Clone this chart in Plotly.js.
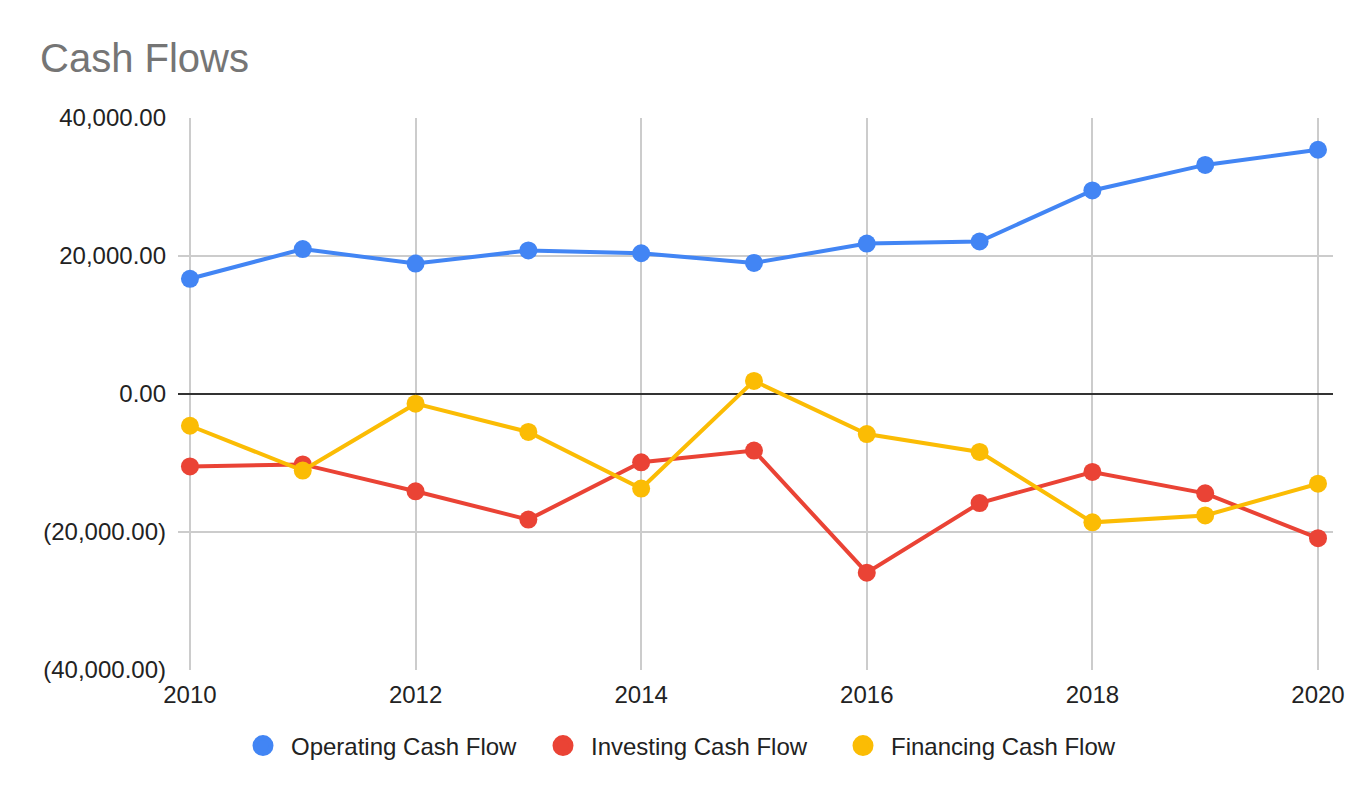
<!DOCTYPE html>
<html>
<head>
<meta charset="utf-8">
<script src="https://cdn.plot.ly/plotly-3.0.1.min.js"></script>
<style>
  html, body { margin: 0; padding: 0; background: #fff; }
  #chart { width: 1372px; height: 798px; }
</style>
</head>
<body>
<div id="chart"></div>
<script>
// years on the x axis
var years = [2010, 2011, 2012, 2013, 2014, 2015, 2016, 2017, 2018, 2019, 2020];

// series values
var operating = [16700, 21000, 18900, 20800, 20400, 19000, 21800, 22100, 29500, 33200, 35400];
var investing = [-10500, -10200, -14100, -18200, -9900, -8200, -25900, -15800, -11300, -14400, -20900];
var financing = [-4600, -11100, -1400, -5500, -13700, 1900, -5800, -8400, -18600, -17600, -13000];

var series_names = ['Operating Cash Flow', 'Investing Cash Flow', 'Financing Cash Flow'];
var series_colors = ['#4285F4', '#EA4335', '#FBBC04'];

// y tick labels, accounting style
var y_ticks = [-40000, -20000, 0, 20000, 40000];
var y_labels = ['(40,000.00)', '(20,000.00)', '0.00', '20,000.00', '40,000.00'];

function make_line(yValues, idx) {
	return {
		x: years,
		y: yValues,
		type: 'scatter',
		mode: 'lines+markers',
		name: series_names[idx],
		showlegend: false,
		hoverinfo: 'none',
		line: { color: series_colors[idx], width: 4 },
		marker: { color: series_colors[idx], size: 18 }
	};
}

// legend only entries (dot, no line segment); outline makes the dot bigger
function make_key(idx) {
	return {
		x: [null],
		y: [null],
		type: 'scatter',
		mode: 'markers',
		name: series_names[idx],
		hoverinfo: 'none',
		marker: { color: series_colors[idx], size: 24, line: { color: series_colors[idx], width: 6 } }
	};
}

var data = [
	make_line(operating, 0), make_line(investing, 1), make_line(financing, 2),
	make_key(0), make_key(1), make_key(2)
];

var layout = {
	width: 1372,
	height: 798,
	margin: { l: 178, r: 39, t: 118, b: 128 },
	paper_bgcolor: '#ffffff',
	plot_bgcolor: '#ffffff',
	font: { family: 'Liberation Sans, Arial, sans-serif', color: '#222222' },
	title: {
		text: 'Cash Flows',
		font: { size: 40, color: '#757575' },
		xref: 'container', x: 40 / 1372, xanchor: 'left',
		yref: 'container', y: 1 - 58 / 798, yanchor: 'middle'
	},
	xaxis: {
		range: [2009.894, 2020.133],
		tick0: 2010,
		dtick: 2,
		showgrid: true,
		gridcolor: '#cccccc',
		gridwidth: 2,
		zeroline: false,
		showline: false,
		ticks: '',
		tickfont: { size: 24, color: '#222222' },
		ticklabelstandoff: 8
	},
	yaxis: {
		range: [-40000, 40000],
		tickvals: y_ticks,
		ticktext: y_labels,
		showgrid: true,
		gridcolor: '#cccccc',
		gridwidth: 2,
		zeroline: true,
		zerolinecolor: '#333333',
		zerolinewidth: 2,
		showline: false,
		ticks: '',
		tickfont: { size: 24, color: '#222222' },
		ticklabelstandoff: 11
	},
	legend: {
		orientation: 'h',
		xref: 'container', x: 235 / 1372, xanchor: 'left',
		yref: 'container', y: 1 - 746 / 798, yanchor: 'middle',
		font: { size: 24, color: '#222222' },
		itemwidth: 46,
		entrywidth: 239,
		entrywidthmode: 'pixels',
		itemsizing: 'trace'
	},
	showlegend: true
};

Plotly.newPlot('chart', data, layout, { displayModeBar: false, staticPlot: true });
</script>
</body>
</html>
